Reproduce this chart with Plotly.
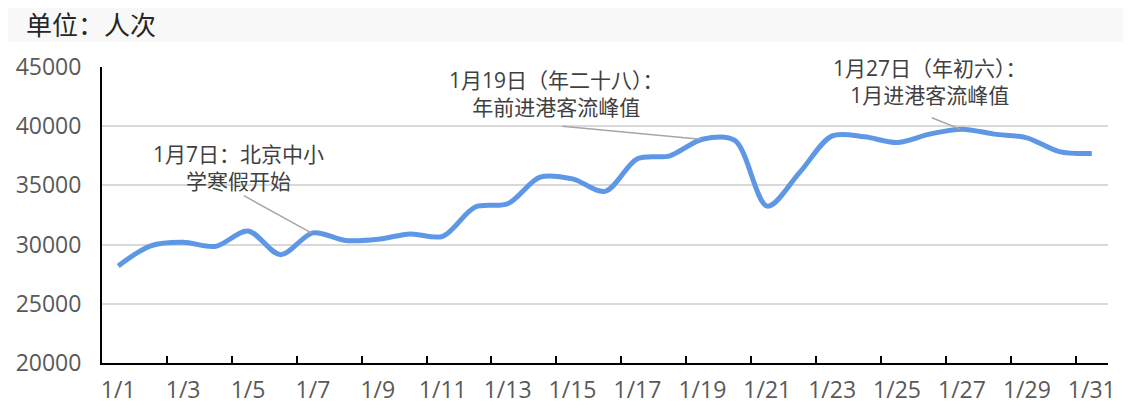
import plotly.graph_objects as go

categories = [f"1/{d}" for d in range(1, 32)]
values = [28200, 29900, 30200, 29850, 31150, 29150, 30990, 30350, 30450, 30900,
          30700, 33180, 33450, 35700, 35550, 34500, 37250, 37500, 38900, 38800,
          33250, 36100, 39180, 39100, 38620, 39330, 39750, 39330, 39020, 37850, 37690]
tick_labels = categories[::2]
y_ticks = [20000, 25000, 30000, 35000, 40000, 45000]
y_tick_labels = ["20000", "25000", "30000", "35000", "40000", "45000"]

notes = [
    ("1月7日：北京中小<br>学寒假开始", 7, 4.7, 36500, -69, -38),
    ("1月19日（年二十八）：<br>年前进港客流峰值", 19, 14.5, 42750, -140, -13),
    ("1月27日（年初六）：<br>1月进港客流峰值", 27, 26.0, 43800, -30, -12),
]

xpos = list(range(1, len(categories) + 1))
FONT = "Open Sans, Noto Sans CJK SC, sans-serif"

fig = go.Figure()
fig.add_trace(go.Scatter(
    x=xpos, y=values, mode="lines",
    line=dict(color="#5E97E6", width=5, shape="spline", smoothing=0.9),
    hoverinfo="skip", showlegend=False,
))
fig.add_trace(go.Scatter(x=[xpos[0]], y=[values[0]], xaxis="x2", mode="markers",
                         marker=dict(opacity=0), showlegend=False, hoverinfo="skip"))

rng = [0.5, len(categories) + 0.5]
fig.update_layout(
    width=1123, height=404,
    margin=dict(l=94, r=23, t=59, b=49, autoexpand=False),
    paper_bgcolor="white", plot_bgcolor="white",
    font=dict(family=FONT, color="#595959"),
    xaxis=dict(range=rng, tickmode="array", tickvals=xpos[::2], ticktext=tick_labels,
               showgrid=False, showline=True, linecolor="black", linewidth=2,
               ticks="outside", ticklen=5, tickcolor="rgba(0,0,0,0)",
               tickfont=dict(size=23, color="#595959", family=FONT), zeroline=False),
    xaxis2=dict(range=rng, overlaying="x", anchor="y", side="bottom",
                tickmode="array", tickvals=[i + 0.5 for i in xpos[1:-1:2]],
                ticks="inside", ticklen=7, tickwidth=2, tickcolor="black",
                showticklabels=False, showgrid=False, showline=False, zeroline=False),
    yaxis=dict(range=[20000, 45000], tickmode="array", tickvals=y_ticks, ticktext=y_tick_labels,
               showgrid=True, gridcolor="#D9D9D9", gridwidth=1.5,
               showline=True, linecolor="black", linewidth=2,
               ticks="outside", ticklen=14, tickcolor="rgba(0,0,0,0)",
               tickfont=dict(size=23, color="#595959", family=FONT), zeroline=False),
    shapes=[dict(type="rect", xref="paper", yref="paper", x0=-0.2, x1=1.2,
                 y0=1.0845, y1=1.4, fillcolor="#F8F8F8", line=dict(width=0), layer="below")],
)

annotations = [dict(text="单位：人次", xref="paper", yref="paper", x=-0.078, y=1.142,
                    xanchor="left", yanchor="middle", showarrow=False,
                    font=dict(size=26, color="#262626", family=FONT))]
for text, day, tx, ty, ax, ay in notes:
    annotations.append(dict(text=text, x=tx, y=ty, xref="x", yref="y", showarrow=False,
                            align="center", font=dict(size=21, color="#404040", family=FONT)))
    annotations.append(dict(text="", x=day - 0.05, y=values[day - 1], xref="x", yref="y",
                            showarrow=True, arrowhead=0, arrowwidth=1.5, arrowcolor="#A6A6A6",
                            ax=ax, ay=ay, standoff=0, startstandoff=0))
fig.update_layout(annotations=annotations)

fig.write_html("out.html")
